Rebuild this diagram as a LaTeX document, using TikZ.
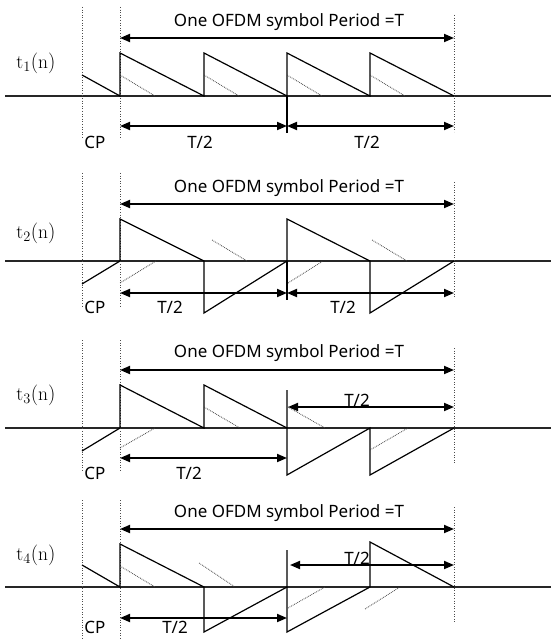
\documentclass[tikz,border=0pt]{standalone}
\usepackage{fontspec}
\setsansfont{Noto Sans}
\usetikzlibrary{arrows.meta}
\tikzset{
  wave/.style={black, line width=1.2pt, line join=miter},
  axis/.style={black!85, line width=1.1pt},
  guide/.style={black!70, line width=0.6pt, dotted},
  echo/.style={black!75, line width=0.8pt, densely dotted},
  dimarrow/.style={black, line width=1.8pt, {Triangle[length=10pt,width=8pt]}-{Triangle[length=10pt,width=8pt]}},
  lbl/.style={font=\sffamily\fontsize{17}{20}\selectfont, inner sep=0pt},
  sig/.style={font=\fontsize{19.5}{22}\selectfont, inner sep=0pt}
}
\begin{document}
\begin{tikzpicture}[x=1pt,y=-1pt]
\useasboundingbox (0,0) rectangle (551,639);

% ---------- Panel 1 ----------
\draw[axis] (5,96) -- (551,96);
\draw[guide] (82,7) -- (82,138);
\draw[guide] (120,7) -- (120,138);
\draw[guide] (454,15) -- (454,132);
\coordinate (a1l) at (120,38); \coordinate (a1r) at (454,38);
\draw[dimarrow] (a1l) -- (a1r);
\node[lbl] (p1) at (289,22) {One OFDM symbol Period =T};
\draw[wave] (82,75) -- (120,96) -- (120,53) -- (204,96) -- (204,53) -- (287,96) -- (287,53) -- (370,96) -- (370,53) -- (454,96);
\draw[wave] (287,96) -- (287,133);
\draw[echo] (120,75) -- (155,96);
\draw[echo] (204,75) -- (239,96);
\draw[echo] (287,75) -- (322,96);
\draw[echo] (370,75) -- (405,96);
\coordinate (b1l) at (120,126); \coordinate (b1m) at (287,126); \coordinate (b1r) at (454,126);
\draw[dimarrow] (b1l) -- (b1m);
\draw[dimarrow] (b1m) -- (b1r);
\node[lbl] (h11) at (200,142) {T/2};
\node[lbl] (h12) at (367,142) {T/2};
\node[lbl] (cp1) at (95,142) {CP};
\node[sig] (s1) at (36,63) {$\mathrm{t}_1(\mathrm{n})$};

% ---------- Panel 2 ----------
\draw[axis] (5,261) -- (551,261);
\draw[guide] (82,173) -- (82,307);
\draw[guide] (120,173) -- (120,307);
\draw[guide] (454,182) -- (454,297);
\coordinate (a2l) at (120,204); \coordinate (a2r) at (454,204);
\draw[dimarrow] (a2l) -- (a2r);
\node[lbl] (p2) at (289,188) {One OFDM symbol Period =T};
\draw[wave] (82,284) -- (120,261) -- (120,219) -- (204,261) -- (204,313) -- (287,261) -- (287,219) -- (370,261) -- (370,313) -- (454,261);
\draw[wave] (287,261) -- (287,300);
\draw[echo] (120,283) -- (156,261);
\draw[echo] (212,240) -- (247,261);
\draw[echo] (288,283) -- (323,261);
\draw[echo] (372,240) -- (407,261);
\coordinate (b2l) at (120,293); \coordinate (b2m) at (287,293); \coordinate (b2r) at (454,293);
\draw[dimarrow] (b2l) -- (b2m);
\draw[dimarrow] (b2m) -- (b2r);
\node[lbl] (h21) at (170,307) {T/2};
\node[lbl] (h22) at (343,307) {T/2};
\node[lbl] (cp2) at (95,307) {CP};
\node[sig] (s2) at (36,233) {$\mathrm{t}_2(\mathrm{n})$};

% ---------- Panel 3 ----------
\draw[axis] (5,428) -- (551,428);
\draw[guide] (82,340) -- (82,472);
\draw[guide] (120,340) -- (120,472);
\draw[guide] (454,348) -- (454,463);
\coordinate (a3l) at (120,370); \coordinate (a3r) at (454,370);
\draw[dimarrow] (a3l) -- (a3r);
\node[lbl] (p3) at (289,353) {One OFDM symbol Period =T};
\draw[wave] (82,451) -- (120,428) -- (120,385) -- (204,428) -- (204,385) -- (287,428);
\draw[wave] (287,390) -- (287,475) -- (370,428) -- (370,475) -- (454,428);
\draw[echo] (120,448) -- (155,428);
\draw[echo] (204,407) -- (240,428);
\draw[echo] (288,407) -- (325,428);
\draw[echo] (370,450) -- (408,428);
\coordinate (u3l) at (288,407); \coordinate (u3r) at (454,407);
\draw[dimarrow] (u3l) -- (u3r);
\node[lbl] (h32) at (357,400) {T/2};
\coordinate (b3l) at (120,458); \coordinate (b3r) at (287,458);
\draw[dimarrow] (b3l) -- (b3r);
\node[lbl] (h31) at (189,473) {T/2};
\node[lbl] (cp3) at (95,473) {CP};
\node[sig] (s3) at (36,395) {$\mathrm{t}_3(\mathrm{n})$};

% ---------- Panel 4 ----------
\draw[axis] (5,587) -- (551,587);
\draw[guide] (82,500) -- (82,638);
\draw[guide] (120,500) -- (120,638);
\draw[guide] (454,507) -- (454,623);
\coordinate (a4l) at (120,529); \coordinate (a4r) at (454,529);
\draw[dimarrow] (a4l) -- (a4r);
\node[lbl] (p4) at (289,513) {One OFDM symbol Period =T};
\draw[wave] (82,565) -- (120,587) -- (120,544) -- (204,587) -- (204,632) -- (287,587);
\draw[wave] (287,550) -- (287,632) -- (370,587) -- (370,542) -- (454,587);
\draw[echo] (120,566) -- (155,587);
\draw[echo] (199,563) -- (235,587);
\draw[echo] (288,608) -- (325,587);
\draw[echo] (365,609) -- (400,587);
\coordinate (u4l) at (290,565); \coordinate (u4r) at (454,565);
\draw[dimarrow] (u4l) -- (u4r);
\node[lbl] (h42) at (357,558) {T/2};
\coordinate (b4l) at (120,618); \coordinate (b4r) at (287,618);
\draw[dimarrow] (b4l) -- (b4r);
\node[lbl] (h41) at (175,627) {T/2};
\node[lbl] (cp4) at (95,627) {CP};
\node[sig] (s4) at (36,555) {$\mathrm{t}_4(\mathrm{n})$};
\end{tikzpicture}
\end{document}
